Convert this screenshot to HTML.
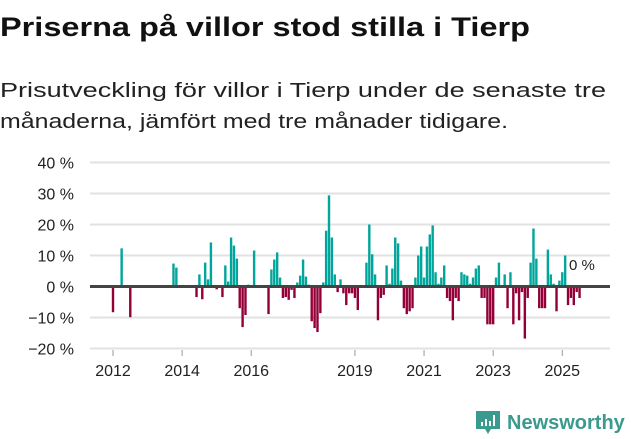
<!DOCTYPE html>
<html><head><meta charset="utf-8"><style>
html,body{margin:0;padding:0;background:#fff;width:631px;height:439px;overflow:hidden}
svg{display:block;font-family:"Liberation Sans",sans-serif}
</style></head><body>
<svg id="chart" width="631" height="439" viewBox="0 0 631 439">
<text x="0" y="36" font-size="27" font-weight="bold" fill="#111" textLength="530" lengthAdjust="spacingAndGlyphs">Priserna på villor stod stilla i Tierp</text>
<text x="0" y="97" font-size="20" fill="#222" textLength="606" lengthAdjust="spacingAndGlyphs">Prisutveckling för villor i Tierp under de senaste tre</text>
<text x="0" y="128" font-size="20" fill="#222" textLength="508" lengthAdjust="spacingAndGlyphs">månaderna, jämfört med tre månader tidigare.</text>
<g id="grid"></g><g id="bars"></g><g id="axes"></g>
<text x="569" y="270" font-size="15" fill="#222">0 %</text>
<g>
<path d="M476 411 h24 v18 h-9 l-3 5 l-3 -5 h-9 z" fill="#3a9a8e"/>
<rect x="481" y="422" width="2" height="4" fill="#fff"/><rect x="485" y="419" width="2" height="7" fill="#fff"/><rect x="489" y="421" width="2" height="5" fill="#fff"/><rect x="493" y="415" width="2" height="11" fill="#fff"/>
<text x="507" y="429" font-size="20" font-weight="bold" fill="#3a9a8e">Newsworthy</text>
</g>
</svg>
<script>
const monthIdx = [0,3,6,21,22,29,30,31,32,33,34,36,38,39,40,41,42,43,44,45,46,47,49,54,55,56,57,58,59,60,61,62,63,64,65,66,67,68,69,70,71,72,73,74,75,76,77,78,79,80,81,82,83,84,85,88,89,90,91,92,93,94,95,96,97,98,99,100,101,102,103,104,105,106,107,108,109,110,111,112,113,114,115,116,117,118,119,120,121,122,123,124,125,126,127,128,129,130,131,132,133,134,136,137,138,139,140,141,142,143,144,145,146,147,148,149,150,151,152,153,154,155,156,157,158,159,160,161,162];
const values = [-8.3,12.3,-9.9,7.4,6.1,-3.4,3.9,-4.1,7.7,2.3,14.2,-0.9,-3.4,6.8,1.6,15.8,13.2,9,-7,-13.1,-9.2,0.6,11.6,-8.9,5.5,8.7,11,2.9,-3.7,-3.4,-4.3,-1.1,-3.7,1.3,3.5,8.7,3.2,0.6,-11.2,-13.4,-14.7,-8.6,1.3,18,29.4,15.8,3.9,-1.8,2.3,-2.2,-6,-2.2,-2.2,-3.7,-7.6,7.7,20,10.4,3.9,-10.9,-3.7,-2.7,6.8,0.9,5.8,15.8,13.9,1.9,-7,-8.9,-8,-7,2.9,10,12.9,2.9,12.9,16.8,19.7,4.6,0.9,2.9,6.8,-3.7,-4.7,-10.9,-3.7,-4.7,4.6,3.9,3.5,0.9,2.9,5.8,6.8,-3.7,-3.7,-12.2,-12.2,-12.2,2.9,7.7,3.9,-7,4.6,-12.2,-2.2,-10.9,-1.8,-16.8,-3.7,7.7,18.7,9,-7,-7,-7,11.9,3.9,0.9,-8,1.9,4.6,10,-6,-3.7,-6,-1.8,-3.7];
const yTicks = [40,30,20,10,0,-10,-20];
const yTickLabels = ["40 %","30 %","20 %","10 %","0 %","−10 %","−20 %"];
const xTickYears = [2012,2014,2016,2019,2021,2023,2025];

const NS="http://www.w3.org/2000/svg";
const y = v => 286.5 - v*3.1;
const x = m => 113 + m*2.88;
const xYear = yr => x((yr-2012)*12);
function mk(tag, attrs, parent){const e=document.createElementNS(NS,tag);for(const k in attrs)e.setAttribute(k,attrs[k]);parent.appendChild(e);return e;}
const grid=document.getElementById('grid'), bars=document.getElementById('bars'), axes=document.getElementById('axes');
yTicks.forEach((t,i)=>{
  if(t!==0){const g=mk('line',{x1:90,x2:610,y1:y(t),y2:y(t),stroke:'#e2e2e2','stroke-width':2},grid);
  
  }
  const l=mk('text',{x:74,y:y(t)+6,'text-anchor':'end','font-size':16,fill:'#222'},axes);
  l.textContent=yTickLabels[i];
  
  
});
monthIdx.forEach((m,i)=>{
  const v=values[i];
  const r=mk('rect',{x:x(m)-1.2,width:2.4,y:v>=0?y(v):y(0),height:Math.abs(y(v)-y(0)),fill:v>=0?'#00a59b':'#930037'},bars);
  
  
});
const z=mk('line',{x1:90,x2:610,y1:y(0),y2:y(0),stroke:'#444','stroke-width':3},axes);


xTickYears.forEach(yr=>{
  const tk=mk('line',{x1:xYear(yr),x2:xYear(yr),y1:350,y2:356,stroke:'#999','stroke-width':1},axes);
  
  
  const t=mk('text',{x:xYear(yr),y:376,'text-anchor':'middle','font-size':16,fill:'#222'},axes);
  t.textContent=yr;
  
  
});
</script>
</body></html>
